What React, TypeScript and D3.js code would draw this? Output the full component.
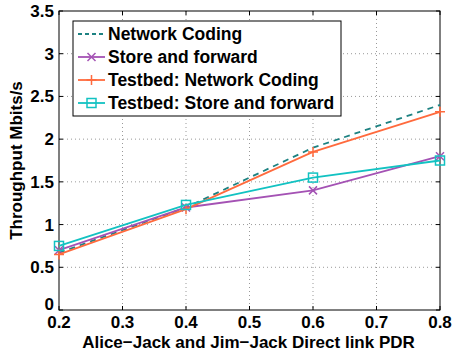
import React from "react";
import * as d3 from "d3";

const pdr = [0.2, 0.4, 0.6, 0.8];
const networkCoding = [0.67, 1.2, 1.9, 2.4];
const storeForward = [0.7, 1.2, 1.4, 1.8];
const testbedNC = [0.65, 1.18, 1.85, 2.32];
const testbedSF = [0.75, 1.23, 1.55, 1.75];
const xTicks = [0.2, 0.3, 0.4, 0.5, 0.6, 0.7, 0.8];
const yTicks = [0, 0.5, 1, 1.5, 2, 2.5, 3, 3.5];

const width = 453;
const height = 352;
const margin = { top: 11, right: 13, bottom: 42, left: 59 };
const innerWidth = width - margin.left - margin.right;
const innerHeight = height - margin.top - margin.bottom;

const series = [
  { name: "Network Coding", values: networkCoding, color: "#1d8282", dash: "6,5", marker: "none" },
  { name: "Store and forward", values: storeForward, color: "#a452b4", dash: "", marker: "x" },
  { name: "Testbed: Network Coding", values: testbedNC, color: "#ff6a3d", dash: "", marker: "plus" },
  { name: "Testbed: Store and forward", values: testbedSF, color: "#12c2c2", dash: "", marker: "square" },
];

const Marker = ({ type, x, y, color }: { type: string; x: number; y: number; color: string }) => {
  if (type === "x")
    return (
      <path d={`M${x - 4},${y - 4}L${x + 4},${y + 4}M${x - 4},${y + 4}L${x + 4},${y - 4}`} stroke={color} strokeWidth={1.5} />
    );
  if (type === "plus")
    return <path d={`M${x - 5},${y}L${x + 5},${y}M${x},${y - 5}L${x},${y + 5}`} stroke={color} strokeWidth={1.5} />;
  if (type === "square")
    return <rect x={x - 4.5} y={y - 4.5} width={9} height={9} fill="none" stroke={color} strokeWidth={1.5} />;
  return null;
};

const App = () => {
  const x = d3.scaleLinear().domain([0.2, 0.8]).range([0, innerWidth]);
  const y = d3.scaleLinear().domain([0, 3.5]).range([innerHeight, 0]);
  const line = d3
    .line<number>()
    .x((_, i) => x(pdr[i]))
    .y((d) => y(d));

  const font = "'Liberation Sans', Arial, Helvetica, sans-serif";

  return (
    <svg width={width} height={height} style={{ position: "absolute", left: 0, top: 0 }} fontFamily={font}>
      <rect width={width} height={height} fill="white" />
      <g transform={`translate(${margin.left},${margin.top})`}>
        {xTicks.map((t) => (
          <g key={"x" + t}>
            {t > 0.2 && t < 0.8 && (
              <line x1={x(t)} x2={x(t)} y1={0} y2={innerHeight} stroke="#999" strokeDasharray="1,3" />
            )}
            <line x1={x(t)} x2={x(t)} y1={innerHeight} y2={innerHeight - 4} stroke="black" />
            <line x1={x(t)} x2={x(t)} y1={0} y2={4} stroke="black" />
            <text x={x(t)} y={innerHeight + 18} textAnchor="middle" fontSize={17} fontWeight="bold">
              {t.toFixed(1)}
            </text>
          </g>
        ))}
        {yTicks.map((t) => (
          <g key={"y" + t}>
            {t > 0 && t < 3.5 && (
              <line x1={0} x2={innerWidth} y1={y(t)} y2={y(t)} stroke="#999" strokeDasharray="1,3" />
            )}
            <line x1={0} x2={4} y1={y(t)} y2={y(t)} stroke="black" />
            <line x1={innerWidth} x2={innerWidth - 4} y1={y(t)} y2={y(t)} stroke="black" />
            <text x={-5} y={t === 0 ? y(t) - 6 : y(t)} dy="0.35em" textAnchor="end" fontSize={17} fontWeight="bold">
              {t}
            </text>
          </g>
        ))}
        <rect x={0} y={0} width={innerWidth} height={innerHeight} fill="none" stroke="black" strokeWidth={1} />
        {series.map((s) => (
          <g key={s.name}>
            <path d={line(s.values) || ""} fill="none" stroke={s.color} strokeWidth={1.8} strokeDasharray={s.dash} />
            {s.values.map((v, i) => (
              <Marker key={i} type={s.marker} x={x(pdr[i])} y={y(v)} color={s.color} />
            ))}
          </g>
        ))}
      </g>
      <g transform="translate(73,21)">
        <rect x={0} y={0} width={268} height={95} fill="white" stroke="black" strokeWidth={1} />
        {series.map((s, i) => {
          const cy = 13 + i * 23;
          return (
            <g key={s.name}>
              <line x1={5} x2={32} y1={cy} y2={cy} stroke={s.color} strokeWidth={1.8} strokeDasharray={s.dash ? "4,3" : ""} />
              <Marker type={s.marker} x={18.5} y={cy} color={s.color} />
              <text x={35} y={cy} dy="0.35em" fontSize={17.5} fontWeight="bold">
                {s.name}
              </text>
            </g>
          );
        })}
      </g>
      <text
        transform={`translate(22,${margin.top + innerHeight / 2}) rotate(-90)`}
        textAnchor="middle"
        fontSize={17}
        fontWeight="bold"
      >
        Throughput Mbits/s
      </text>
      <text x={margin.left + innerWidth / 2 - 1} y={348} textAnchor="middle" fontSize={17} fontWeight="bold">
        Alice−Jack and Jim−Jack Direct link PDR
      </text>
    </svg>
  );
};

export default App;
